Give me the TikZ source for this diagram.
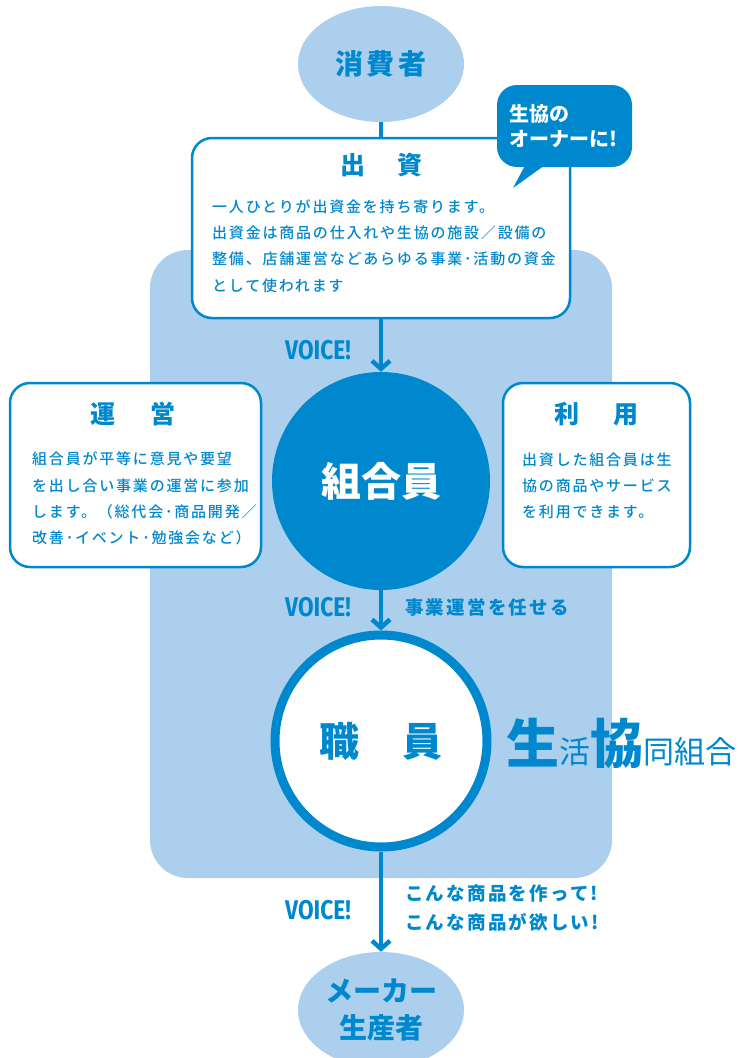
\documentclass[tikz,border=0pt]{standalone}
\usepackage{fontspec}
\setmainfont{Noto Sans CJK JP}
\newfontfamily\bodyfont[LetterSpace=12]{Noto Sans CJK JP Medium}
\newfontfamily\voicefont[FakeStretch=0.84]{Fira Sans}
\usetikzlibrary{shapes.geometric,arrows.meta}
\definecolor{coopblue}{HTML}{0088CE}
\definecolor{coopsky}{HTML}{ABCFEC}

\begin{document}
\begin{tikzpicture}[
  x=1pt, y=-1pt,
  pbox/.style={draw=coopblue, line width=2.5pt, fill=white, rounded corners=20pt, inner sep=0pt},
  hd/.style={text=coopblue, inner sep=0pt, font=\fontsize{25}{30}\selectfont\bfseries},
  txt/.style={text=coopblue, align=left, anchor=west, inner sep=0pt, font=\bodyfont\fontsize{15}{26.3}\selectfont},
  vc/.style={text=coopblue, inner sep=0pt, font=\voicefont\bfseries\fontsize{27}{30}\selectfont},
  lbl/.style={text=coopblue, align=left, anchor=west, inner sep=0pt, font=\bodyfont\bfseries\fontsize{18.5}{29}\selectfont},
  flow/.style={draw=coopblue, line width=4.5pt},
  barb/.style={-{Straight Barb[length=8pt,width=18pt]}},
  oval/.style={ellipse, fill=coopsky, minimum width=166pt, minimum height=116pt, inner sep=0pt, text=coopblue},
]
\useasboundingbox (0,0) rectangle (740,1058);
\fill [coopsky, rounded corners=38pt] (150,250) rectangle (612,878);

% top and bottom
\node (consumer) [oval, font=\bodyfont\bfseries\fontsize{28}{32}\selectfont] at (381,64) {消費者};
\node (maker) [oval, align=center, font=\fontsize{28}{37}\selectfont\bfseries] at (381,1010) {メーカー\\生産者};

% boxes
\node (invest) [pbox, minimum width=378pt, minimum height=180pt] at (381,228) {};
\node (investhd) [hd] at (381,165) {出\hspace{32pt}資};
\node (investtxt) [txt] at (212,246) {一人ひとりが出資金を持ち寄ります。\\出資金は商品の仕入れや生協の施設／設備の\\整備、店舗運営などあらゆる事業･活動の資金\\として使われます};

\node (operate) [pbox, minimum width=251pt, minimum height=184pt] at (135.5,475) {};
\node (operatehd) [hd] at (133,414) {運\hspace{35pt}営};
\node (operatetxt) [txt] at (32,498.5) {組合員が平等に意見や要望\\を出し合い事業の運営に参加\\します。（総代会･商品開発／\\改善･イベント･勉強会など）};

\node (use) [pbox, minimum width=187pt, minimum height=184pt] at (596.5,475) {};
\node (usehd) [hd] at (596,414) {利\hspace{34pt}用};
\node (usetxt) [txt] at (522,486) {出資した組合員は生\\協の商品やサービス\\を利用できます。};

% speech bubble
\node (owner) [fill=coopblue, rounded corners=20pt, minimum width=135pt, minimum height=82pt] at (564.5,126) {};
\fill [coopblue] (528,160) -- (513,188) -- (552,160) -- cycle;
\node (ownertxt) [text=white, align=left, anchor=west, inner sep=0pt, font=\fontsize{20}{25}\selectfont\bfseries] at (509,126) {生協の\\オーナーに!};

% circles
\node (member) [circle, fill=coopblue, minimum size=218pt, inner sep=0pt, text=white, font=\fontsize{40}{44}\selectfont\bfseries] at (381,481) {組合員};
\node (staff) [circle, draw=coopblue, line width=9pt, fill=white, minimum size=212pt, inner sep=0pt, text=coopblue, font=\fontsize{40}{44}\selectfont\bfseries] at (381,741) {職\hspace{43pt}員};
\node (coopname) [anchor=base west, inner sep=0pt, text=coopblue] at (506,763) {\fontsize{53}{56}\selectfont\bfseries 生\fontsize{31}{34}\selectfont\mdseries 活\fontsize{53}{56}\selectfont\bfseries 協\fontsize{31}{34}\selectfont\mdseries 同組合};

% flow
\draw [flow] (consumer.south) -- (invest.north);
\draw [flow, barb] (invest.south) -- (member.north);
\draw [flow, barb] (member.south) -- (staff.north);
\draw [flow, barb] (staff.south) -- (maker.north);

\node (voicea) [vc] at (318,350) {VOICE!};
\node (voiceb) [vc] at (318,607) {VOICE!};
\node (voicec) [vc] at (318,910) {VOICE!};
\node (entrust) [lbl] at (405,607) {事業運営を任せる};
\node (request) [lbl] at (405,907.5) {こんな商品を作って!\\こんな商品が欲しい!};
\end{tikzpicture}
\end{document}
